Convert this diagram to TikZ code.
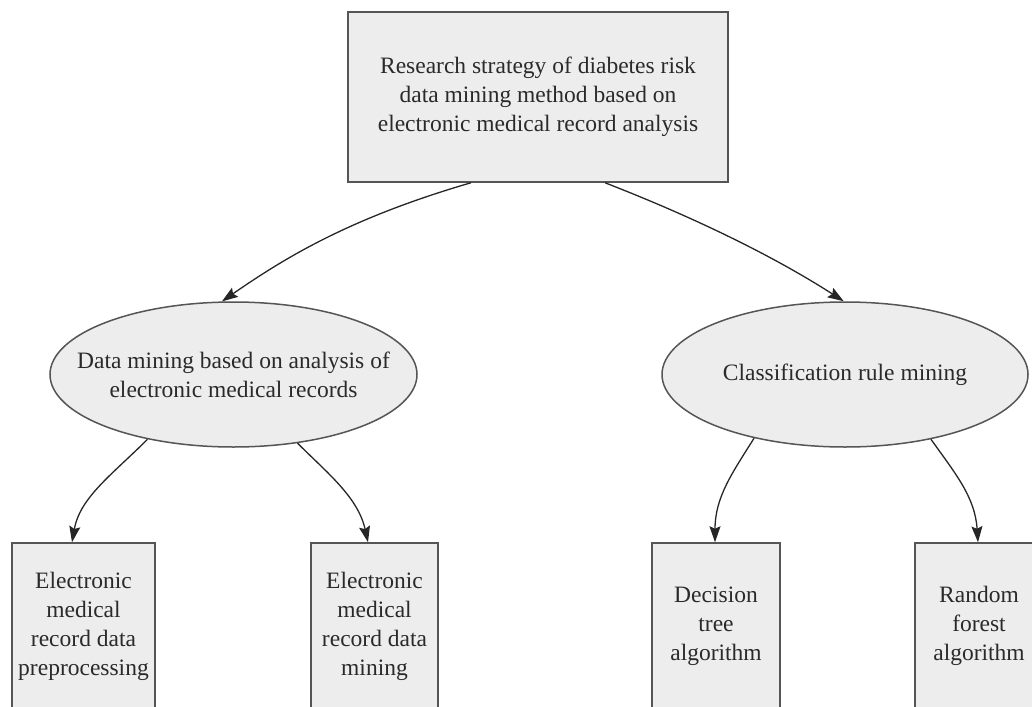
\documentclass[tikz,border=0pt]{standalone}
\usepackage{fontspec}
\setmainfont{Liberation Serif}
\usetikzlibrary{shapes.geometric,arrows.meta}
\definecolor{boxfill}{HTML}{EDEDED}
\definecolor{boxline}{HTML}{555555}
\definecolor{txt}{HTML}{2A2A2A}
\tikzset{
  tfont/.style={font=\fontsize{23.5}{29}\selectfont, text=txt, align=center},
  base/.style={draw=boxline, line width=1.5pt, fill=boxfill, inner sep=0pt, tfont},
  rbox/.style={base, rectangle},
  ebox/.style={base, ellipse},
  conn/.style={draw=black!85, line width=1.3pt, -{Stealth[length=16pt,width=11pt,inset=2.5pt]}},
}
\begin{document}
\begin{tikzpicture}[x=1pt,y=-1pt]
\useasboundingbox (0,0) rectangle (1032,706);
\clip (0,0) rectangle (1032,706);
\node[rbox, minimum width=380pt, minimum height=170pt] (top) at (538,97)
  {Research strategy of diabetes risk\\data mining method based on\\electronic medical record analysis};
\node[ebox, minimum width=367pt, minimum height=145pt,
  label={[tfont]center:Data mining based on analysis of\\electronic medical records}] (e1) at (233.5,374.5) {};
\node[ebox, minimum width=366pt, minimum height=145pt,
  label={[tfont]center:Classification rule mining}] (e2) at (845,374.5) {};
\node[rbox, minimum width=143pt, minimum height=166pt] (b1) at (83.5,626)
  {Electronic\\medical\\record data\\preprocessing};
\node[rbox, minimum width=127pt, minimum height=166pt] (b2) at (374.5,626)
  {Electronic\\medical\\record data\\mining};
\node[rbox, minimum width=128pt, minimum height=166pt] (b3) at (716,626)
  {Decision\\tree\\algorithm};
\node[rbox, minimum width=128pt, minimum height=166pt] (b4) at (979,626)
  {Random\\forest\\algorithm};
\draw[conn] (top.232) .. controls +(-120,35) and +(65,-45) .. (e1.99);
\draw[conn] (top.308) .. controls +(90,35) and +(-70,-45) .. (e2.91.6);
\draw[conn] (e1.217) .. controls +(-35,35) and +(8,-45) .. ([xshift=-11.5pt]b1.north);
\draw[conn] (e1.313.7) .. controls +(30,30) and +(-10,-45) .. ([xshift=-6.5pt]b2.north);
\draw[conn] (e2.215.2) .. controls +(-22,35) and +(0,-45) .. ([xshift=-1pt]b3.north);
\draw[conn] (e2.323.9) .. controls +(25,35) and +(-3,-45) .. ([xshift=-1pt]b4.north);
\end{tikzpicture}
\end{document}
